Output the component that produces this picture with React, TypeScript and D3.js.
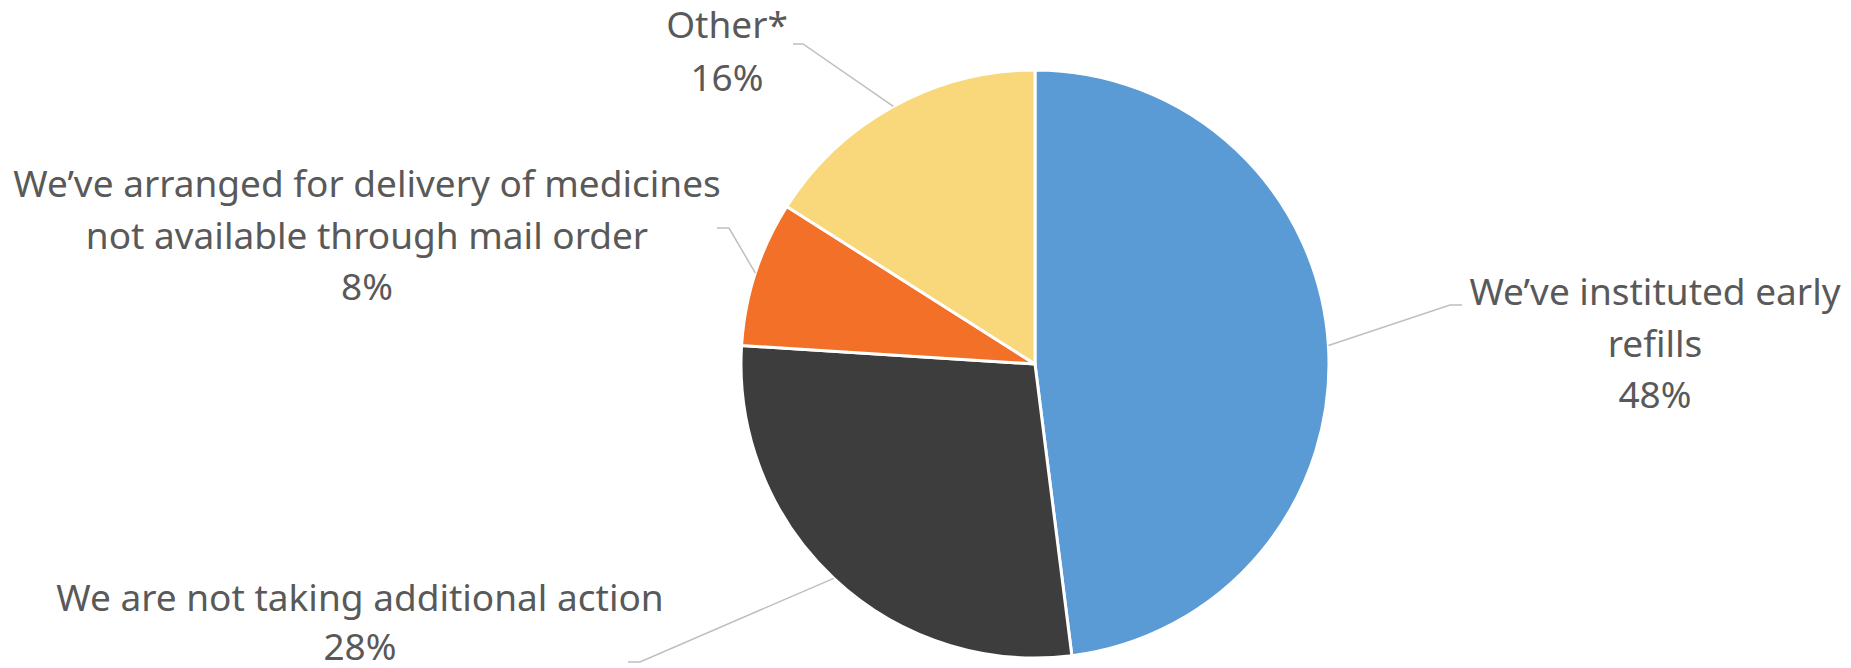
import React from "react";
import * as d3 from "d3";

const categories = [
  "We\u2019ve instituted early refills",
  "We are not taking additional action",
  "We\u2019ve arranged for delivery of medicines not available through mail order",
  "Other*",
];
const values = [48, 28, 8, 16];
const colors = ["#5B9BD5", "#3D3D3D", "#F27027", "#F9D77B"];
const labelLines = [
  ["We\u2019ve instituted early", "refills", "48%"],
  ["We are not taking additional action", "28%"],
  ["We\u2019ve arranged for delivery of medicines", "not available through mail order", "8%"],
  ["Other*", "16%"],
];

const W = 1851;
const H = 668;
const cx = 1035;
const cy = 364;
const R = 294;
const FONT = "'Noto Sans', 'Open Sans', sans-serif";
const FS = 37;

// label layout: center x, first baseline y, line height, leader elbow point, elbow horizontal end
const labelLayout = [
  { x: 1655, y: 305, lh: 51.5, ex: 1450, ey: 305, hx: 1462 },
  { x: 360, y: 611, lh: 49, ex: 640, ey: 662, hx: 628 },
  { x: 367, y: 197, lh: 51.5, ex: 729, ey: 228, hx: 717 },
  { x: 727, y: 38, lh: 53, ex: 803, ey: 44, hx: 793 },
];

export default function App() {
  const pie = d3.pie<number>().sort(null).value((d) => d);
  const arcs = pie(values);
  const arcGen = d3.arc<d3.PieArcDatum<number>>().innerRadius(0).outerRadius(R);
  const edgeArc = d3.arc<d3.PieArcDatum<number>>().innerRadius(R).outerRadius(R);

  return (
    <svg
      width={W}
      height={H}
      style={{ position: "absolute", left: 0, top: 0, background: "#fff" }}
      fontFamily={FONT}
    >
      <g transform={`translate(${cx},${cy})`}>
        {arcs.map((a, i) => (
          <path
            key={categories[i]}
            d={arcGen(a) || ""}
            fill={colors[i]}
            stroke="#fff"
            strokeWidth={3}
            strokeLinejoin="round"
          />
        ))}
      </g>
      {arcs.map((a, i) => {
        const [px, py] = edgeArc.centroid(a);
        const L = labelLayout[i];
        return (
          <polyline
            key={"l" + i}
            points={`${cx + px},${cy + py} ${L.ex},${L.ey} ${L.hx},${L.ey}`}
            fill="none"
            stroke="#BFBFBF"
            strokeWidth={1.5}
          />
        );
      })}
      {labelLines.map((lines, i) => {
        const L = labelLayout[i];
        return (
          <text
            key={"t" + i}
            x={L.x}
            y={L.y}
            textAnchor="middle"
            fontSize={FS}
            fill="#595959"
          >
            {lines.map((ln, j) => (
              <tspan key={j} x={L.x} y={L.y + j * L.lh}>
                {ln}
              </tspan>
            ))}
          </text>
        );
      })}
    </svg>
  );
}
